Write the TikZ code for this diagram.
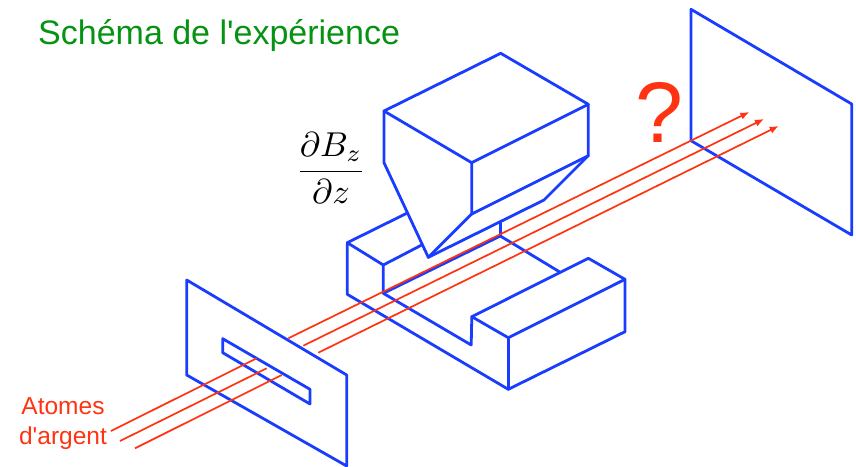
\documentclass[tikz,border=0pt]{standalone}
\usepackage{fontspec}
\setmainfont{Liberation Sans}
\definecolor{magblue}{HTML}{1A3CFF}
\definecolor{beamred}{HTML}{FF3311}
\definecolor{titlegreen}{HTML}{069212}
\usetikzlibrary{arrows.meta}
\tikzset{
  part/.style={draw=magblue,line width=2.8pt,line join=round,line cap=round},
  beam/.style={draw=beamred,line width=1.7pt},
  beamarrow/.style={beam,-{Latex[length=9pt,width=7.5pt]}},
  title/.style={text=titlegreen,anchor=base west,inner sep=0pt,font=\fontsize{34}{38}\selectfont},
  redtext/.style={text=beamred,inner sep=0pt}
}
\begin{document}
\begin{tikzpicture}[x=1pt,y=-1pt]
\useasboundingbox (0,0) rectangle (856,466);
% lower magnet
\draw[part] (406.7,213.3) -- (347.3,242.7) -- (347.3,294.3) -- (508.3,389.3) -- (625,331.7) -- (625,279.3) -- (588.3,258.3) -- (471.8,316.7) -- (471.2,345) -- (383.3,293.3) -- (383.3,265) -- (347.3,242.7);
\draw[part] (383.3,265) -- (421.7,245);
\draw[part] (383.3,293.3) -- (500.3,236) -- (559.3,271.7);
\draw[part] (500.3,236) -- (500.3,221.7);
\draw[part] (471.8,316.7) -- (508.3,337.7) -- (625,279.3);
\draw[part] (508.3,337.7) -- (508.3,389.3);
% upper magnet
\draw[part] (384,111) -- (500.7,53.3) -- (588.3,104.3) -- (471.7,162.7) -- cycle;
\draw[part] (384,111) -- (384,162.7) -- (428.3,257.3) -- (544,200) -- (588.3,155.7) -- (588.3,104.3);
\draw[part] (471.7,162.7) -- (471.7,214) -- (588.3,155.7);
\draw[part] (471.7,214) -- (428.3,257.3);
% slit plate
\draw[part] (186.7,280) -- (346.7,375) -- (346.7,466) -- (186.7,375) -- cycle;
\draw[part] (222.7,338.7) -- (310,389.3) -- (310,404) -- (222.7,352.7) -- cycle;
% screen
\draw[part] (691,9.3) -- (851.7,104) -- (851.7,235) -- (691,140.7) -- cycle;
% beams before the slit
\coordinate (a1) at (111,431);   \coordinate (s1) at (256.7,358.3);
\coordinate (a2) at (120,441);   \coordinate (s2) at (266.7,368.3);
\coordinate (a3) at (135,448.3); \coordinate (s3) at (281.7,375);
\draw[beam] (a1) -- (s1);
\draw[beam] (a2) -- (s2);
\draw[beam] (a3) -- (s3);
% beams after the plate
\coordinate (b1) at (288.3,338.3); \coordinate (t1) at (749.3,112);
\coordinate (b2) at (303.3,345.7); \coordinate (t2) at (764,119);
\coordinate (b3) at (318.3,352.7); \coordinate (t3) at (778.7,126);
\draw[beamarrow] (b1) -- (t1);
\draw[beamarrow] (b2) -- (t2);
\draw[beamarrow] (b3) -- (t3);
% texts
\node[title] (titre) at (38,44) {Schéma de l\textquotesingle expérience};
\node[redtext,font=\fontsize{86}{90}\selectfont,anchor=base] (question) at (659,142) {?};
\node[redtext,font=\fontsize{24.5}{26}\selectfont,anchor=base] (atomes) at (63,414) {Atomes};
\node[redtext,font=\fontsize{24.5}{26}\selectfont,anchor=base] (argent) at (63,444) {d\textquotesingle argent};
\node[scale=3.45,inner sep=0pt] (formule) at (331,168) {$\displaystyle\frac{\partial B_z}{\partial z}$};
\end{tikzpicture}
\end{document}
